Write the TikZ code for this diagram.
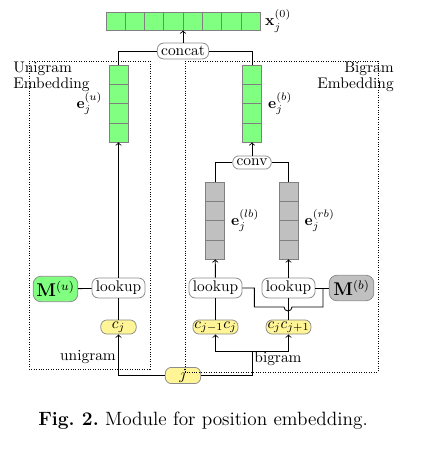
\documentclass[tikz,border=0pt]{standalone}
\usepackage{amsmath,amssymb}
\usepackage{tikz}
\usetikzlibrary{calc,positioning}
\definecolor{vgreen}{RGB}{128,255,128}
\definecolor{vgray}{RGB}{192,192,192}
\definecolor{tokyellow}{RGB}{255,244,150}
\tikzset{
  wire/.style={line width=0.55pt},
  arr/.style={wire, ->},
  opbox/.style={draw=black!45, fill=white, rounded corners=4pt, inner xsep=2.5pt, inner ysep=2pt, line width=0.5pt},
  tokbox/.style={draw=black!45, fill=tokyellow, rounded corners=4pt, inner sep=1pt, minimum width=23pt, minimum height=9pt, line width=0.5pt},
  matbox/.style={draw=black!45, rounded corners=5pt, minimum width=29pt, minimum height=16.5pt, inner sep=1pt, font=\large, line width=0.5pt},
  vec/.style={draw=black!50, line width=0.5pt, inner sep=0pt, minimum width=12.2pt, minimum height=50pt},
  tile/.style={draw=black!50, line width=0.5pt},
  region/.style={densely dotted, line width=0.6pt},
  lbl/.style={inner sep=1pt}
}

\begin{document}
\begin{tikzpicture}[x=0.65pt,y=-0.65pt]
  \useasboundingbox (0,0) rectangle (423,452);
  % output vector
  \node[vec, fill=vgreen, minimum width=100pt, minimum height=11.7pt] (x0) at (183,21) {};
  \foreach \k in {1,...,7}
    \draw[tile] ($(x0.north west)!\k/8!(x0.north east)$) -- ($(x0.south west)!\k/8!(x0.south east)$);
  \node[lbl, right=2pt of x0] {$\mathbf{x}_j^{(0)}$};
  \node[opbox] (concat) at (183,51) {concat};

  % embedding vectors
  \node[vec, fill=vgreen] (eu) at (118.5,103.5) {};
  \node[vec, fill=vgreen] (eb) at (252,103.5) {};
  \node[lbl, left=3pt of eu] {$\mathbf{e}_j^{(u)}$};
  \node[lbl, right=3pt of eb] {$\mathbf{e}_j^{(b)}$};
  \node[opbox] (conv) at (252,162.5) {conv};
  \node[vec, fill=vgray] (elb) at (215,220.5) {};
  \node[vec, fill=vgray] (erb) at (288.5,220.5) {};
  \node[lbl, right=3pt of elb] {$\mathbf{e}_j^{(lb)}$};
  \node[lbl, right=3pt of erb] {$\mathbf{e}_j^{(rb)}$};
  \foreach \v in {eu,eb,elb,erb}
    \foreach \k in {1,2,3}
      \draw[tile] ($(\v.north west)!\k/4!(\v.south west)$) -- ($(\v.north east)!\k/4!(\v.south east)$);

  % lookups and tables
  \node[opbox] (lu) at (118.5,288) {lookup};
  \node[opbox] (lbl) at (215.5,288) {lookup};
  \node[opbox] (lbr) at (288.5,288) {lookup};
  \node[matbox, fill=vgreen] (mu) at (55.5,289) {$\mathbf{M}^{(u)}$};
  \node[matbox, fill=vgray] (mb) at (351.5,288) {$\mathbf{M}^{(b)}$};

  % tokens
  \node[tokbox] (cj) at (118.5,327) {$c_j$};
  \node[tokbox] (cb1) at (215.5,327) {$c_{j-1}c_j$};
  \node[tokbox] (cb2) at (288.5,327) {$c_jc_{j+1}$};
  \node[tokbox] (j) at (183,375.5) {$j$};
  \coordinate (bj) at (252,351);
  \coordinate (mjoin) at (323,288);

  % connectors
  \draw[arr] (concat) -- (x0);
  \draw[wire] (eu.north) |- (concat.west);
  \draw[wire] (eb.north) |- (concat.east);
  \draw[arr] (conv) -- (eb);
  \draw[wire] (elb.north) |- (conv.west);
  \draw[wire] (erb.north) |- (conv.east);
  \draw[arr] (lu) -- (eu);
  \draw[arr] (lbl) -- (elb);
  \draw[arr] (lbr) -- (erb);
  \draw[wire] (mu) -- (lu);
  \draw[wire] (lbr) -- (mb);
  \draw[wire] (lbl.east) -- ++(12,0) |- (284,307)
    arc[start angle=180, end angle=0, radius=4] -| (mjoin);
  \draw[wire] (cj) -- (lu);
  \draw[wire] (cb1) -- (lbl);
  \draw[wire] (cb2) -- (lbr);
  \draw[arr] (j.west) -| (cj.south);
  \draw[wire] (j.east) -| (bj);
  \draw[arr] (bj) -| (cb1.south);
  \draw[arr] (bj) -| (cb2.south);

  % regions
  \draw[region] (29,61) rectangle (150,369);
  \draw[region] (185,61) rectangle (378,372);
  \node[anchor=north west, inner sep=0pt, align=left, font=\fontsize{10}{8.5}\selectfont] (uni) at (13,62) {Unigram\\Embedding};
  \node[anchor=north east, inner sep=0pt, align=right, font=\fontsize{10}{8.5}\selectfont] (bi) at (394,62) {Bigram\\Embedding};
  \node (unitxt) at (88,357) {unigram};
  \node (bitxt) at (278,359) {bigram};

  \node[font=\fontsize{12.5}{15}\selectfont] (cap) at (203,421) {\frenchspacing\textbf{Fig. 2.} Module for position embedding.};
\end{tikzpicture}
\end{document}
